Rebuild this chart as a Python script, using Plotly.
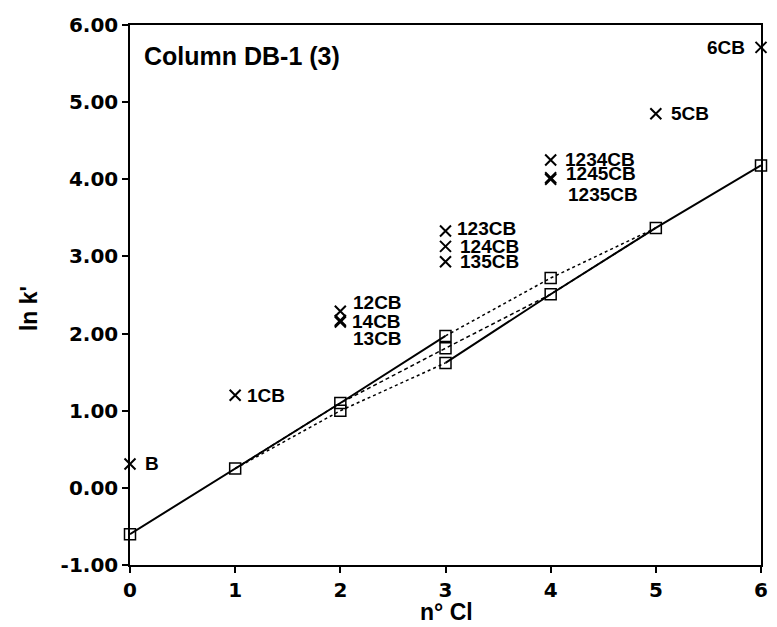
import plotly.graph_objects as go

# ---- data ----
# chlorobenzenes: number of Cl atoms vs ln k'
cmp_names = ["B", "1CB", "12CB", "14CB", "13CB", "123CB", "124CB", "135CB",
             "1234CB", "1245CB", "1235CB", "5CB", "6CB"]
cmp_ncl = [0, 1, 2, 2, 2, 3, 3, 3, 4, 4, 4, 5, 6]
cmp_lnk = [0.31, 1.20, 2.29, 2.17, 2.15, 3.33, 3.13, 2.93, 4.25, 4.02, 4.00, 4.85, 5.71]

# calculated points (squares)
sq_x = [0, 1, 2, 2, 3, 3, 3, 4, 4, 5, 6]
sq_y = [-0.60, 0.25, 1.10, 1.00, 1.97, 1.81, 1.62, 2.72, 2.51, 3.37, 4.18]

# connecting lines
solid_a_x = [0, 1, 2, 3]
solid_a_y = [-0.60, 0.25, 1.10, 1.97]
solid_b_x = [3, 4, 5, 6]
solid_b_y = [1.62, 2.51, 3.37, 4.18]
dotted_x = [1, 2, 3, None, 3, 4, 5]
dotted_y = [0.25, 1.00, 1.62, None, 1.97, 2.72, 3.37]
dashed_x = [1, 2, 3, 4, 5]
dashed_y = [0.25, 1.10, 1.81, 2.51, 3.37]

x_ticks = [0, 1, 2, 3, 4, 5, 6]
y_ticks = [-1, 0, 1, 2, 3, 4, 5, 6]

# ---- styles ----
FONT = "Arial, Liberation Sans, Helvetica, sans-serif"
TICKFONT = "DejaVu Sans, Arial, sans-serif"
# label offsets (px): (xshift, yshift, anchor)
label_style = {
    "B": (14, 0, "left"), "1CB": (11, 0, "left"),
    "12CB": (12, 9, "left"), "14CB": (11, -1, "left"), "13CB": (12, -16, "left"),
    "123CB": (10, 2, "left"), "124CB": (13, 0, "left"), "135CB": (13, 0, "left"),
    "1234CB": (13, 1, "left"), "1245CB": (14, 4, "left"), "1235CB": (16, -15, "left"),
    "5CB": (14, 0, "left"), "6CB": (-15, 0, "right"),
}

fig = go.Figure()

fig.add_trace(go.Scatter(x=dotted_x, y=dotted_y, mode="lines",
                         line=dict(color="black", width=1.5, dash="dot"),
                         connectgaps=False, showlegend=False))
fig.add_trace(go.Scatter(x=dashed_x, y=dashed_y, mode="lines",
                         line=dict(color="black", width=1.5, dash="4px,3px"),
                         showlegend=False))
fig.add_trace(go.Scatter(x=solid_a_x, y=solid_a_y, mode="lines",
                         line=dict(color="black", width=2), showlegend=False))
fig.add_trace(go.Scatter(x=solid_b_x, y=solid_b_y, mode="lines",
                         line=dict(color="black", width=2), showlegend=False))
fig.add_trace(go.Scatter(x=sq_x, y=sq_y, mode="markers", cliponaxis=False,
                         marker=dict(symbol="square-open", size=11, color="black",
                                     line=dict(width=1.5, color="black")),
                         showlegend=False))
fig.add_trace(go.Scatter(x=cmp_ncl, y=cmp_lnk, mode="markers", cliponaxis=False,
                         marker=dict(symbol="x-thin-open", size=11, color="black",
                                     line=dict(width=2, color="black")),
                         showlegend=False))

for n, xv, yv in zip(cmp_names, cmp_ncl, cmp_lnk):
    xs, ys, anc = label_style[n]
    fig.add_annotation(x=xv, y=yv, text=n, showarrow=False, xanchor=anc,
                       yanchor="middle", xshift=xs, yshift=ys, borderpad=0,
                       font=dict(family=FONT, size=19, color="black", weight="bold"))

fig.add_annotation(xref="paper", yref="paper", x=0.019, y=0.943, text="Column DB-1 (3)",
                   showarrow=False, xanchor="left", yanchor="middle",
                   font=dict(family=FONT, size=25, color="black", weight="bold"))
fig.add_annotation(xref="paper", yref="paper", x=0.5016, y=-0.113, text="n° Cl",
                   showarrow=False, xanchor="center", yanchor="bottom", borderpad=0,
                   font=dict(family=FONT, size=23, color="black", weight="bold"))
fig.add_annotation(xref="paper", yref="paper", x=-0.16, y=0.474, text="ln k'",
                   showarrow=False, xanchor="center", yanchor="middle", textangle=-90,
                   font=dict(family=FONT, size=23, color="black", weight="bold"))

axis_common = dict(showgrid=False, zeroline=False, showline=True, linecolor="black",
                   linewidth=1.5, mirror=True, ticks="outside", ticklen=6,
                   tickwidth=1.5, tickcolor="black",
                   tickfont=dict(family=TICKFONT, size=20, color="black", weight="bold"))
fig.update_xaxes(range=[0, 6], tickvals=x_ticks, ticktext=[str(v) for v in x_ticks],
                 **axis_common)
fig.update_yaxes(range=[-1, 6], tickvals=y_ticks, ticktext=[f"{v:.2f}" for v in y_ticks],
                 **axis_common)

fig.update_layout(width=777, height=627, margin=dict(l=130, r=9, t=25, b=62),
                  plot_bgcolor="white", paper_bgcolor="white", showlegend=False)

fig.write_html("out.html")
